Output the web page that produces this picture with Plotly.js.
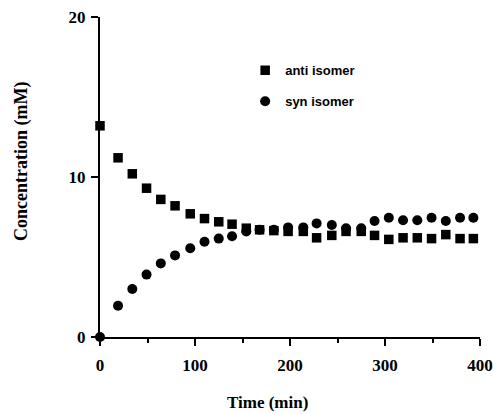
<!DOCTYPE html>
<html>
<head>
<meta charset="utf-8">
<script src="https://cdn.plot.ly/plotly-3.0.1.min.js"></script>
<style>html,body{margin:0;padding:0;background:#fff;}#chart{width:493px;height:414px;}</style>
</head>
<body>
<div id="chart"></div>
<script>
const timeMin = [0, 19, 34, 49, 64, 79, 95, 110, 125, 139, 154, 168, 183, 198, 214, 228, 244, 259, 275, 289, 304, 319, 334, 349, 364, 379, 393];
const antiIsomer = [13.2, 11.2, 10.2, 9.3, 8.6, 8.2, 7.7, 7.4, 7.2, 7.05, 6.8, 6.7, 6.65, 6.6, 6.6, 6.2, 6.35, 6.6, 6.6, 6.35, 6.1, 6.2, 6.2, 6.15, 6.4, 6.15, 6.15];
const synIsomer = [0, 1.95, 3.0, 3.9, 4.6, 5.1, 5.55, 5.95, 6.15, 6.3, 6.6, 6.7, 6.7, 6.85, 6.85, 7.1, 7.0, 6.8, 6.8, 7.25, 7.45, 7.3, 7.3, 7.45, 7.25, 7.45, 7.45];
const xTicks = [0, 100, 200, 300, 400];
const yTicks = [0, 10, 20];
const xTitle = 'Time (min)';
const yTitle = 'Concentration (mM)';

const tickFont = {family: 'Liberation Serif, Times New Roman, serif', size: 17, color: '#000', weight: 700};
const titleFont = {family: 'Liberation Serif, Times New Roman, serif', size: 17, color: '#000', weight: 700};
const yTitleFont = {family: 'Liberation Serif, Times New Roman, serif', size: 18, color: '#000', weight: 700};

const traces = [
  {x: timeMin, y: antiIsomer, name: 'anti isomer', type: 'scatter', mode: 'markers', legendgroup: 'a',
   marker: {symbol: 'square', size: 9.5, color: '#000'}, cliponaxis: false},
  {x: timeMin, y: synIsomer, name: 'syn isomer', type: 'scatter', mode: 'markers', legendgroup: 'b',
   marker: {symbol: 'circle', size: 10, color: '#000'}, cliponaxis: false}
];

const layout = {
  width: 493, height: 414,
  margin: {l: 100, r: 13, t: 17, b: 77},
  paper_bgcolor: '#fff', plot_bgcolor: '#fff',
  showlegend: true,
  legend: {x: 0.382, y: 0.88, xanchor: 'left', yanchor: 'top', bgcolor: 'rgba(0,0,0,0)',
           font: {family: 'Liberation Sans, Arial, sans-serif', size: 13, color: '#000', weight: 700},
           tracegroupgap: 11, traceorder: 'grouped', itemwidth: 30},
  xaxis: {
    range: [0, 400], tickvals: xTicks, ticktext: xTicks.map(String),
    showgrid: false, zeroline: false, showline: true, linecolor: '#000', linewidth: 2,
    ticks: 'outside', ticklen: 7, tickwidth: 2, tickcolor: '#000',
    minor: {dtick: 50, ticks: 'outside', ticklen: 4, tickwidth: 2, tickcolor: '#000', showgrid: false},
    tickfont: tickFont, ticklabelstandoff: 5
  },
  yaxis: {
    range: [0, 20], tickvals: yTicks, ticktext: yTicks.map(String),
    showgrid: false, zeroline: false, showline: true, linecolor: '#000', linewidth: 2,
    ticks: 'outside', ticklen: 7, tickwidth: 2, tickcolor: '#000',
    tickfont: tickFont, ticklabelstandoff: 2
  },
  annotations: [
    {text: xTitle, xref: 'paper', yref: 'paper', x: 0.442, y: -0.204, xanchor: 'center', yanchor: 'middle',
     showarrow: false, font: titleFont},
    {text: yTitle, xref: 'paper', yref: 'paper', x: -0.205, y: 0.547, xanchor: 'center', yanchor: 'middle',
     textangle: -90, showarrow: false, font: yTitleFont}
  ]
};

Plotly.newPlot('chart', traces, layout, {displayModeBar: false, staticPlot: true});
</script>
</body>
</html>
